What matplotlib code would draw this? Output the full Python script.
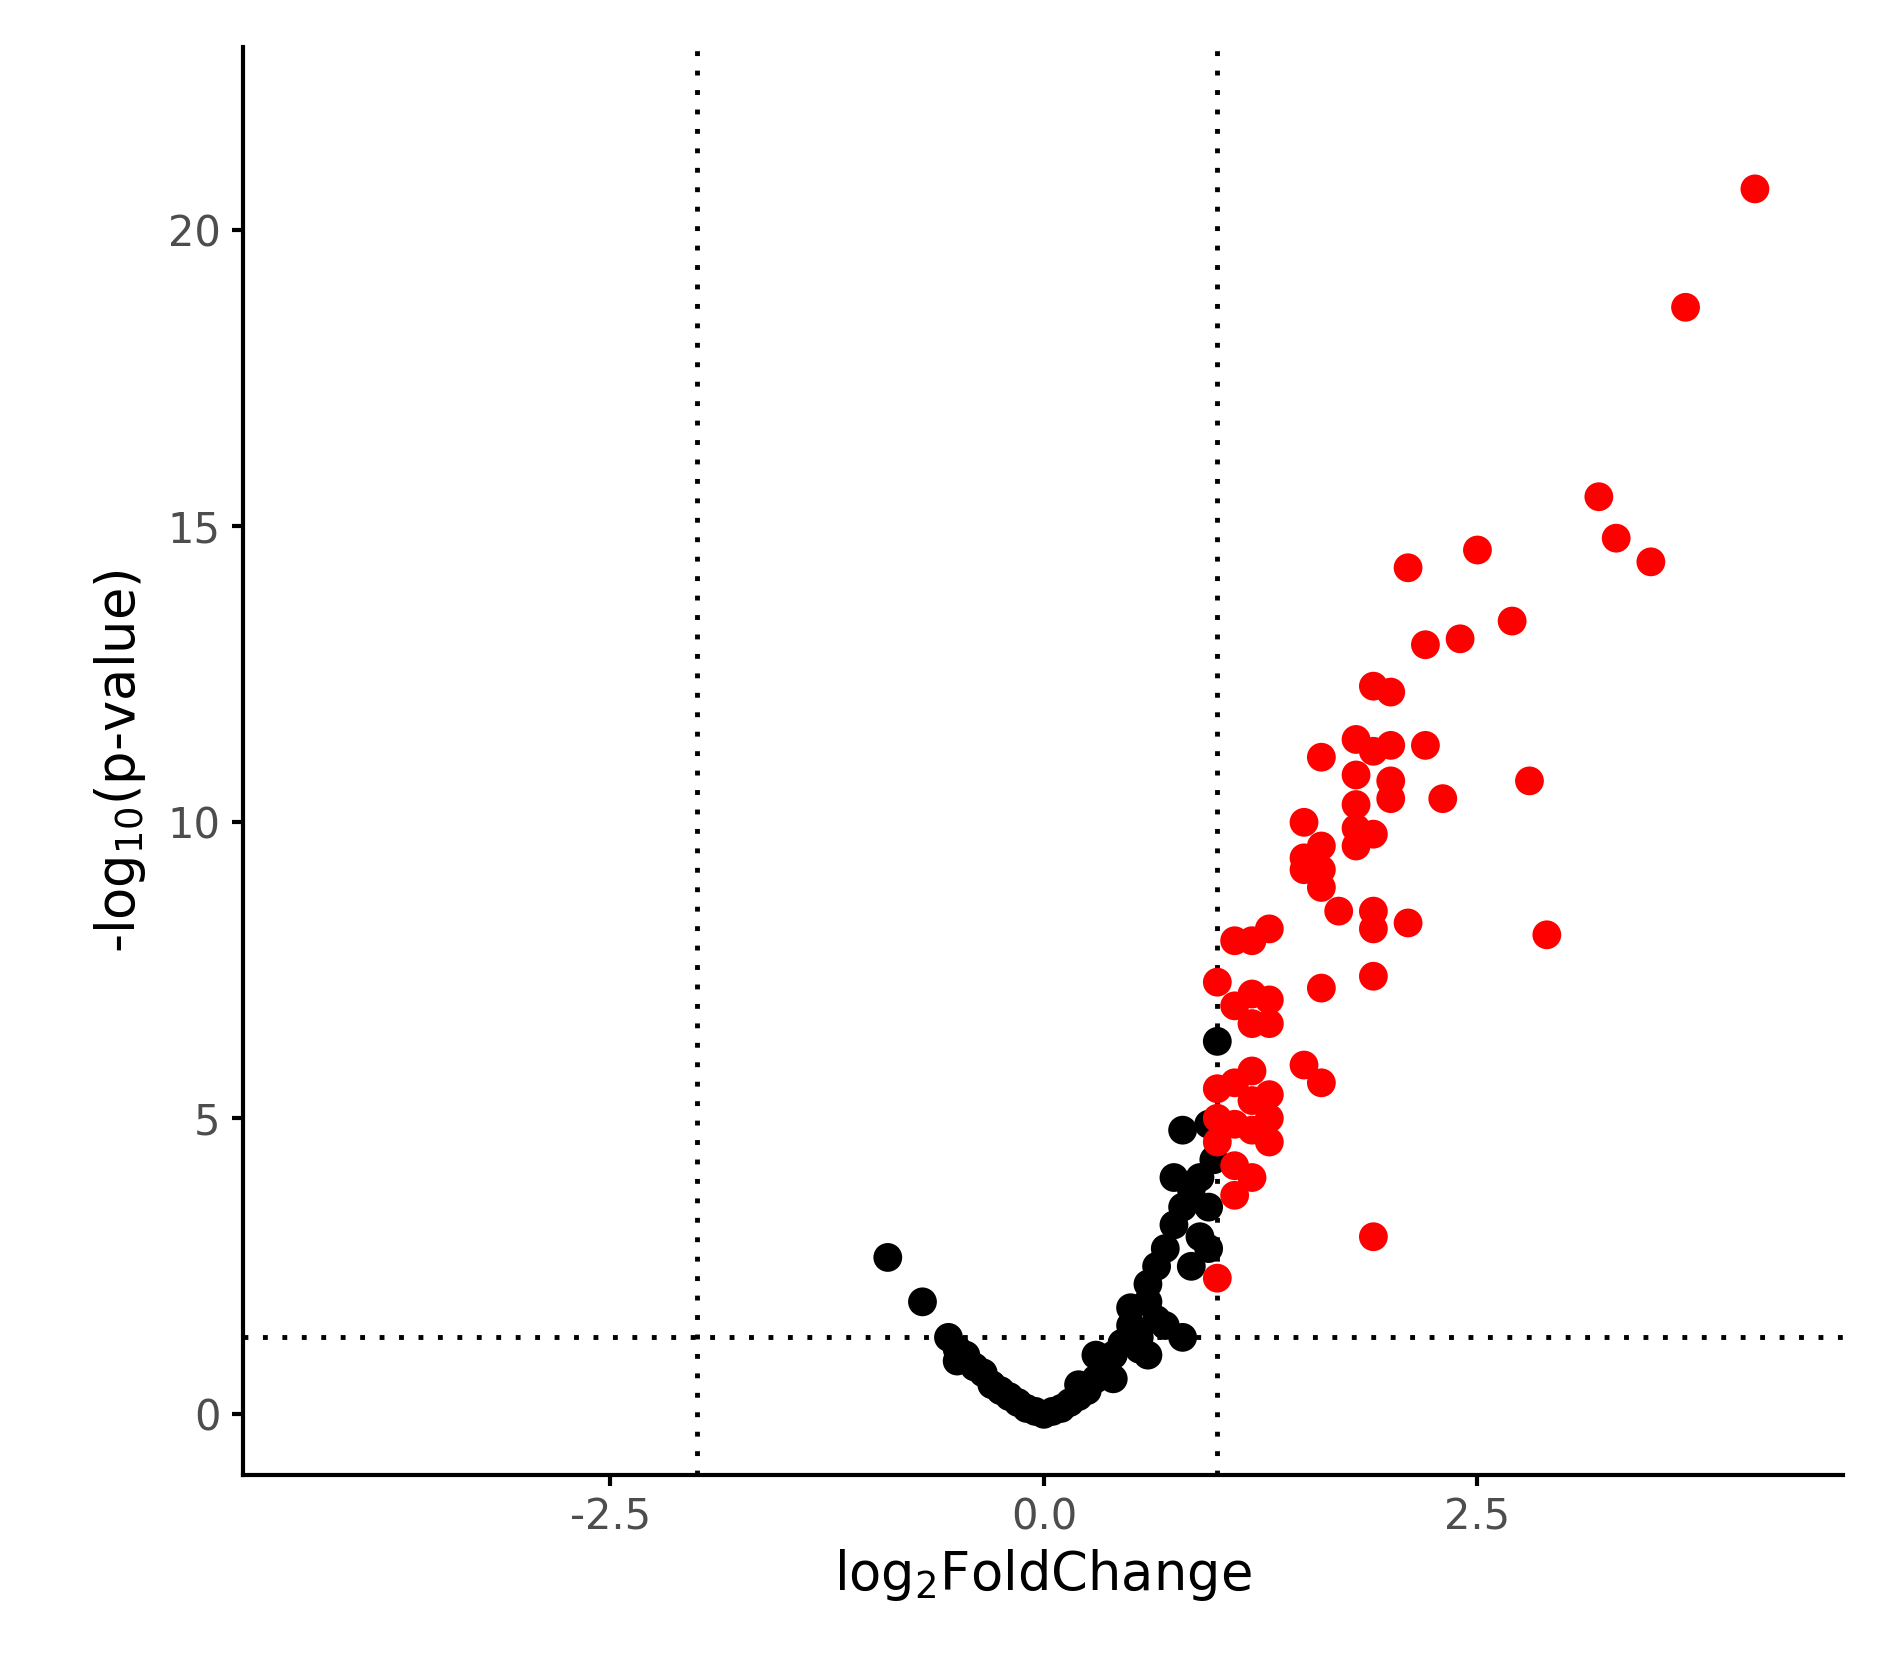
import matplotlib
matplotlib.use("Agg")
import matplotlib.pyplot as plt

# significant (red) points: log2 fold change, -log10 p
red_fc = [4.1, 3.7, 3.2, 3.3, 3.5, 2.5, 2.1, 2.7, 2.4, 2.2, 1.9, 2.0, 1.8, 1.9, 2.0, 2.2,
          1.6, 1.8, 2.0, 2.0, 2.3, 2.8, 1.8, 1.5, 1.8, 1.9, 1.8, 1.6, 1.5, 1.6, 1.5, 1.6,
          1.7, 1.9, 1.9, 2.1, 2.9, 1.3, 1.2, 1.1, 1.0, 1.2, 1.3, 1.1, 1.2, 1.3, 1.6, 1.9,
          1.5, 1.6, 1.2, 1.0, 1.1, 1.2, 1.3, 1.0, 1.1, 1.2, 1.3, 1.3, 1.0, 1.1, 1.2, 1.1,
          1.9, 1.0]
red_p = [20.7, 18.7, 15.5, 14.8, 14.4, 14.6, 14.3, 13.4, 13.1, 13.0, 12.3, 12.2, 11.4, 11.2, 11.3, 11.3,
         11.1, 10.8, 10.7, 10.4, 10.4, 10.7, 10.3, 10.0, 9.9, 9.8, 9.6, 9.6, 9.4, 9.2, 9.2, 8.9,
         8.5, 8.5, 8.2, 8.3, 8.1, 8.2, 8.0, 8.0, 7.3, 7.1, 7.0, 6.9, 6.6, 6.6, 7.2, 7.4,
         5.9, 5.6, 5.8, 5.5, 5.6, 5.3, 5.4, 5.0, 4.9, 4.8, 5.0, 4.6, 4.6, 4.2, 4.0, 3.7,
         3.0, 2.3]

# non-significant (black) points
blk_fc = [-0.9, -0.7, -0.55, -0.5, -0.45, -0.4, -0.35, -0.3, -0.25, -0.2, -0.15, -0.1, -0.05, 0.0,
          0.05, 0.1, 0.15, 0.2, 0.25, 0.3, 0.3, 0.35, 0.4, 0.45, 0.5, 0.5, 0.55, 0.6, 0.6, 0.65,
          0.7, 0.7, 0.75, 0.75, 0.8, 0.8, 0.8, 0.85, 0.9, 0.9, 0.95, 0.95, 1.0, 0.98, 0.95, 0.85,
          0.6, 0.4, 0.65, -0.5, 0.2, 0.55]
blk_p = [2.65, 1.9, 1.3, 1.1, 1.0, 0.8, 0.7, 0.5, 0.4, 0.3, 0.2, 0.1, 0.05, 0.0,
         0.05, 0.1, 0.2, 0.3, 0.4, 0.6, 1.0, 0.8, 1.0, 1.2, 1.5, 1.8, 1.3, 1.9, 2.2, 2.5,
         2.8, 1.5, 3.2, 4.0, 3.5, 4.8, 1.3, 3.8, 4.0, 3.0, 3.5, 2.8, 6.3, 4.3, 4.9, 2.5,
         1.0, 0.6, 1.6, 0.9, 0.5, 1.1]

fig = plt.figure(figsize=(18.81, 16.72), dpi=100)
ax = fig.add_axes([0.129, 0.118, 0.851, 0.854])

ax.scatter(blk_fc, blk_p, s=430, color="black", edgecolors="none", zorder=3)
ax.scatter(red_fc, red_p, s=430, color="red", edgecolors="none", zorder=3)

for xv in (-2, 1):
    ax.axvline(xv, color="black", linestyle=(0, (1, 3)), linewidth=3.5, zorder=2)
ax.axhline(1.3, color="black", linestyle=(0, (1, 3)), linewidth=3.5, zorder=2)

ax.set_xlim(-4.62, 4.61)
ax.set_ylim(-1.02, 23.1)
ax.set_xticks([-2.5, 0.0, 2.5])
ax.set_xticklabels(["-2.5", "0.0", "2.5"])
ax.set_yticks([0, 5, 10, 15, 20])

for s in ("top", "right"):
    ax.spines[s].set_visible(False)
for s in ("left", "bottom"):
    ax.spines[s].set_linewidth(3)
ax.tick_params(axis="both", labelsize=30, labelcolor="#4d4d4d", width=3, length=8, pad=8)

ax.set_xlabel(r"log$_2$FoldChange", fontsize=38, labelpad=6)
ax.set_ylabel(r"-log$_{10}$(p-value)", fontsize=38, labelpad=14)

fig.savefig("out.png", dpi=100)
